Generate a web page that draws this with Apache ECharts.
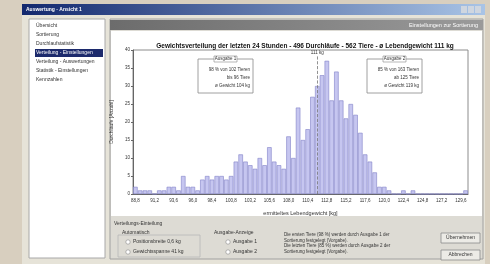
<!DOCTYPE html>
<html>
<head>
<meta charset="utf-8">
<script src="https://cdn.jsdelivr.net/npm/echarts@6/dist/echarts.min.js"></script>
<style>
  html, body { margin: 0; padding: 0; background: #d8cfbf; }
  #chart { width: 490px; height: 264px; }
</style>
</head>
<body>
<div id="chart"></div>
<script>
// weight bins (kg, lower bound)
const categories = [
  '88,8', '89,4', '90,0', '90,6', '91,2', '91,8', '92,4', '93,0', '93,6', '94,2',
  '94,8', '95,4', '96,0', '96,6', '97,2', '97,8', '98,4', '99,0', '99,6', '100,2',
  '100,8', '101,4', '102,0', '102,6', '103,2', '103,8', '104,4', '105,0', '105,6', '106,2',
  '106,8', '107,4', '108,0', '108,6', '109,2', '109,8', '110,4', '111,0', '111,6', '112,2',
  '112,8', '113,4', '114,0', '114,6', '115,2', '115,8', '116,4', '117,0', '117,6', '118,2',
  '118,8', '119,4', '120,0', '120,6', '121,2', '121,8', '122,4', '123,0', '123,6', '124,2',
  '124,8', '125,4', '126,0', '126,6', '127,2', '127,8', '128,4', '129,0', '129,6', '130,2'
]
const counts = [
  2, 1, 1, 1, 0, 1, 1, 2, 2, 1,
  5, 2, 2, 1, 4, 5, 4, 5, 5, 4,
  5, 9, 11, 9, 8, 7, 10, 8, 13, 9,
  8, 7, 16, 10, 24, 15, 18, 27, 30, 33,
  37, 26, 34, 26, 21, 25, 22, 17, 11, 9,
  6, 2, 2, 1, 0, 0, 1, 0, 1, 0,
  0, 0, 0, 0, 0, 0, 0, 0, 0, 1
]
const meanBin = 38
const meanLineTop = 38.3
const menuItems = [
  'Übersicht', 'Sortierung', 'Durchlaufstatistik', 'Verteilung - Einstellungen',
  'Verteilung - Auswertungen', 'Statistik - Einstellungen', 'Kennzahlen'
]
const selectedItem = 3
const box1Lines = ['98 % von 102 Tieren', 'bis 96 Tiere', 'ø Gewicht 104 kg']
const box2Lines = ['85 % von 163 Tieren', 'ab 125 Tiere', 'ø Gewicht 119 kg']
const noteLines = [
  'Die ersten Tiere (98 %) werden durch Ausgabe 1 der',
  'Sortierung festgelegt (Vorgabe).',
  'Die letzten Tiere (85 %) werden durch Ausgabe 2 der',
  'Sortierung festgelegt (Vorgabe).'
]

const font = 'Liberation Sans'
const chart = echarts.init(document.getElementById('chart'))

function txt(x, y, text, opt) {
  return {
    type: 'text', x, y, z: 5,
    style: Object.assign({ text, font: '5px ' + font, fill: '#333', textVerticalAlign: 'middle' }, opt || {})
  }
}

function infoBox(x, title, lines) {
  const els = [
    { type: 'rect', z: 10, shape: { x, y: 59, width: 55, height: 34 }, style: { fill: '#fff', stroke: '#888', lineWidth: 0.8 } },
    { type: 'rect', z: 11, shape: { x: x + 16, y: 56, width: 23, height: 6 }, style: { fill: '#fff', stroke: '#888', lineWidth: 0.6 } },
    Object.assign(txt(x + 27.5, 59, title, { textAlign: 'center', font: '4.5px ' + font }), { z: 12 })
  ]
  lines.forEach((l, i) => {
    els.push(Object.assign(txt(x + 52, 70 + i * 8, l, { textAlign: 'right', font: '4.5px ' + font }), { z: 12 }))
  })
  return els
}

const graphic = [
  // window
  { type: 'rect', z: -10, shape: { x: 22, y: 4, width: 463, height: 260 }, style: { fill: '#e6e3d8' } },
  { type: 'rect', z: -9, shape: { x: 22, y: 4, width: 463, height: 11 },
    style: { fill: new echarts.graphic.LinearGradient(0, 0, 1, 0, [{ offset: 0, color: '#12286e' }, { offset: 1, color: '#a9c4e6' }]) } },
  txt(26, 9.5, 'Auswertung - Ansicht 1', { fill: '#fff', font: 'bold 5px ' + font }),
  { type: 'rect', z: -8, shape: { x: 461, y: 6, width: 6, height: 7 }, style: { fill: '#cfd6e0' } },
  { type: 'rect', z: -8, shape: { x: 468, y: 6, width: 6, height: 7 }, style: { fill: '#cfd6e0' } },
  { type: 'rect', z: -8, shape: { x: 475, y: 6, width: 6, height: 7 }, style: { fill: '#cfd6e0' } },
  // menu list
  { type: 'rect', z: -8, shape: { x: 29, y: 19, width: 76, height: 239 }, style: { fill: '#fff', stroke: '#a8a8a8', lineWidth: 1 } },
  { type: 'rect', z: -7, shape: { x: 35, y: 49, width: 68, height: 8 }, style: { fill: '#1c2a6c' } },
  // main panel
  { type: 'rect', z: -8, shape: { x: 110, y: 19, width: 373, height: 240 }, style: { fill: '#dddbd4', stroke: '#a0a0a0', lineWidth: 1 } },
  { type: 'rect', z: -7, shape: { x: 110, y: 20, width: 373, height: 10 },
    style: { fill: new echarts.graphic.LinearGradient(0, 0, 1, 0, [{ offset: 0, color: '#6c6c6c' }, { offset: 1, color: '#9a9a9a' }]) } },
  txt(478, 25, 'Einstellungen zur Sortierung', { fill: '#fff', textAlign: 'right', font: '5.5px ' + font }),
  { type: 'rect', z: -7, shape: { x: 111, y: 31, width: 371, height: 185 }, style: { fill: '#fff' } },
  // bottom controls
  txt(114, 224, 'Verteilungs-Einteilung'),
  { type: 'rect', z: -6, shape: { x: 118, y: 235, width: 82, height: 22 }, style: { fill: 'none', stroke: '#b8b8b8', lineWidth: 0.8 } },
  txt(122, 233, 'Automatisch'),
  { type: 'circle', z: 5, shape: { cx: 128, cy: 242, r: 2.2 }, style: { fill: '#fff', stroke: '#888', lineWidth: 0.6 } },
  { type: 'circle', z: 5, shape: { cx: 128, cy: 252, r: 2.2 }, style: { fill: '#fff', stroke: '#888', lineWidth: 0.6 } },
  txt(133, 242, 'Positionsbreite 0,6 kg'),
  txt(133, 252, 'Gewichtsspanne 41 kg'),
  txt(214, 233, 'Ausgabe-Anzeige'),
  { type: 'circle', z: 5, shape: { cx: 228, cy: 242, r: 2.2 }, style: { fill: '#fff', stroke: '#888', lineWidth: 0.6 } },
  { type: 'circle', z: 5, shape: { cx: 228, cy: 252, r: 2.2 }, style: { fill: '#fff', stroke: '#888', lineWidth: 0.6 } },
  txt(233, 242, 'Ausgabe 1'),
  txt(233, 252, 'Ausgabe 2'),
  { type: 'rect', z: 4, shape: { x: 441, y: 233, width: 39, height: 10 }, style: { fill: '#ecebe6', stroke: '#8a8a8a', lineWidth: 0.8 } },
  txt(460.5, 238, 'Übernehmen', { textAlign: 'center' }),
  { type: 'rect', z: 4, shape: { x: 441, y: 250, width: 39, height: 10 }, style: { fill: '#ecebe6', stroke: '#8a8a8a', lineWidth: 0.8 } },
  txt(460.5, 255, 'Abbrechen', { textAlign: 'center' })
]
menuItems.forEach((m, i) => {
  graphic.push(txt(36, 26 + i * 9, m, { fill: i === selectedItem ? '#fff' : '#333' }))
})
noteLines.forEach((l, i) => {
  graphic.push(txt(284, 235 + i * 5.5, l, { font: '4.5px ' + font }))
})
graphic.push(...infoBox(198, 'Ausgabe 1', box1Lines))
graphic.push(...infoBox(367, 'Ausgabe 2', box2Lines))

chart.setOption({
  backgroundColor: '#d8cfbf',
  animation: false,
  textStyle: { fontFamily: font },
  title: {
    text: 'Gewichtsverteilung der letzten 24 Stunden - 496 Durchläufe - 562 Tiere - ø Lebendgewicht 111 kg',
    left: 300,
    top: 38,
    textAlign: 'center',
    textStyle: { fontSize: 6.5, fontWeight: 'bold', color: '#111' }
  },
  grid: {
    left: 133,
    right: 22,
    top: 50,
    bottom: 70,
    show: true,
    backgroundColor: '#fff',
    borderColor: '#8c8c8c',
    borderWidth: 1
  },
  xAxis: {
    type: 'category',
    data: categories,
    name: 'ermitteltes Lebendgewicht [kg]',
    nameLocation: 'middle',
    nameGap: 16,
    nameTextStyle: { fontSize: 5.5, color: '#333' },
    axisLine: { lineStyle: { color: '#666' } },
    axisTick: { show: false },
    axisLabel: { interval: 3, fontSize: 4.5, color: '#333', margin: 4 }
  },
  yAxis: {
    type: 'value',
    min: 0,
    max: 40,
    interval: 5,
    name: 'Durchläufe [Anzahl]',
    nameLocation: 'middle',
    nameGap: 9,
    nameTextStyle: { fontSize: 5, color: '#333' },
    axisLine: { show: true, lineStyle: { color: '#666' } },
    axisTick: { show: true, length: 2 },
    axisLabel: { fontSize: 4.5, color: '#333', margin: 3 },
    splitLine: { show: false }
  },
  series: [
    {
      type: 'bar',
      data: counts,
      barCategoryGap: '6%',
      itemStyle: {
        color: '#c6c6f0',
        borderColor: '#8282c8',
        borderWidth: 0.6
      },
      markLine: {
        silent: true,
        symbol: 'none',
        lineStyle: { color: '#777', type: 'dashed', width: 0.8 },
        label: { formatter: '111 kg', position: 'end', fontSize: 4.5, color: '#333', distance: 1 },
        data: [[{ coord: [meanBin, 0] }, { coord: [meanBin, meanLineTop] }]]
      }
    }
  ],
  graphic
})
</script>
</body>
</html>
